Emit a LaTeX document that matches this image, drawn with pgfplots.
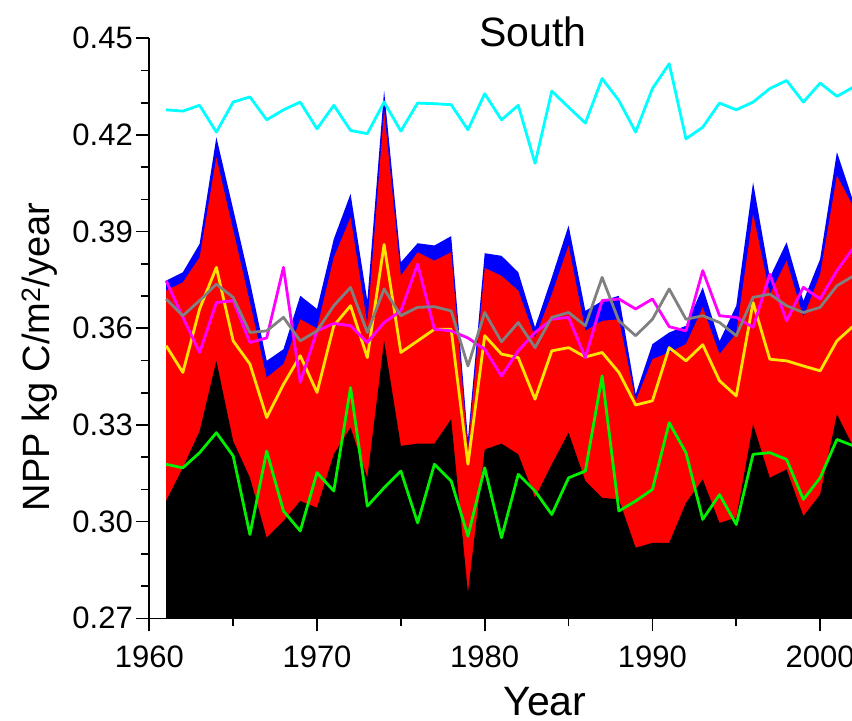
\documentclass[border=0pt]{standalone}
\usepackage{fontspec}
\setmainfont{Liberation Sans}
\usepackage{pgfplots}
\usepackage{pgfplotstable}
\pgfplotsset{compat=1.18}
\definecolor{ncyan}{RGB}{0,255,255}
\definecolor{nyellow}{RGB}{255,228,0}
\definecolor{nmagenta}{RGB}{255,0,255}
\definecolor{ngray}{RGB}{128,128,128}
\definecolor{ngreen}{RGB}{0,240,0}
\definecolor{nblue}{RGB}{0,0,255}
\definecolor{nred}{RGB}{255,0,0}
\pgfplotstableread{
year blue red black cyan yellow magenta gray green
1961 0.3748 0.3717 0.3064 0.4278 0.3546 0.3748 0.3691 0.3178
1962 0.3774 0.3743 0.3167 0.4274 0.3463 0.3634 0.3639 0.3167
1963 0.3862 0.3820 0.3281 0.4292 0.3660 0.3525 0.3686 0.3214
1964 0.4193 0.4131 0.3499 0.4209 0.3789 0.3680 0.3737 0.3276
1965 0.3970 0.3905 0.3250 0.4302 0.3561 0.3686 0.3696 0.3204
1966 0.3745 0.3680 0.3136 0.4318 0.3489 0.3556 0.3587 0.2960
1967 0.3499 0.3447 0.2950 0.4247 0.3323 0.3570 0.3592 0.3219
1968 0.3535 0.3489 0.3002 0.4278 0.3426 0.3789 0.3634 0.3033
1969 0.3701 0.3628 0.3064 0.4302 0.3515 0.3432 0.3561 0.2971
1970 0.3660 0.3600 0.3043 0.4219 0.3401 0.3592 0.3592 0.3152
1971 0.3877 0.3820 0.3209 0.4292 0.3608 0.3615 0.3670 0.3095
1972 0.4017 0.3944 0.3292 0.4214 0.3670 0.3608 0.3727 0.3416
1973 0.3685 0.3613 0.3136 0.4204 0.3509 0.3556 0.3587 0.3048
1974 0.4338 0.4276 0.3561 0.4302 0.3860 0.3618 0.3722 0.3105
1975 0.3805 0.3763 0.3235 0.4212 0.3525 0.3654 0.3639 0.3157
1976 0.3864 0.3836 0.3242 0.4299 0.3561 0.3799 0.3665 0.2996
1977 0.3857 0.3810 0.3242 0.4297 0.3597 0.3597 0.3667 0.3178
1978 0.3886 0.3836 0.3318 0.4294 0.3597 0.3592 0.3654 0.3126
1979 0.3255 0.3225 0.2779 0.4216 0.3178 0.3570 0.3483 0.2955
1980 0.3833 0.3787 0.3224 0.4328 0.3577 0.3535 0.3649 0.3167
1981 0.3825 0.3763 0.3242 0.4247 0.3520 0.3452 0.3558 0.2950
1982 0.3774 0.3717 0.3209 0.4292 0.3509 0.3530 0.3618 0.3147
1983 0.3603 0.3571 0.3074 0.4112 0.3380 0.3587 0.3540 0.3095
1984 0.3758 0.3706 0.3178 0.4336 0.3530 0.3628 0.3634 0.3022
1985 0.3919 0.3857 0.3276 0.4286 0.3540 0.3634 0.3649 0.3136
1986 0.3654 0.3592 0.3126 0.4237 0.3511 0.3509 0.3608 0.3157
1987 0.3685 0.3623 0.3074 0.4375 0.3525 0.3686 0.3758 0.3452
1988 0.3701 0.3628 0.3069 0.4307 0.3463 0.3691 0.3623 0.3033
1989 0.3395 0.3375 0.2919 0.4209 0.3362 0.3660 0.3577 0.3064
1990 0.3551 0.3504 0.2934 0.4344 0.3375 0.3691 0.3628 0.3100
1991 0.3587 0.3525 0.2934 0.4421 0.3540 0.3605 0.3722 0.3307
1992 0.3608 0.3551 0.3058 0.4188 0.3499 0.3592 0.3628 0.3214
1993 0.3727 0.3665 0.3131 0.4224 0.3549 0.3779 0.3639 0.3007
1994 0.3560 0.3520 0.2996 0.4299 0.3437 0.3639 0.3618 0.3084
1995 0.3670 0.3585 0.3012 0.4278 0.3390 0.3634 0.3577 0.2991
1996 0.4053 0.3955 0.3302 0.4302 0.3680 0.3603 0.3696 0.3209
1997 0.3758 0.3706 0.3136 0.4344 0.3504 0.3768 0.3706 0.3214
1998 0.3867 0.3810 0.3162 0.4369 0.3499 0.3623 0.3670 0.3193
1999 0.3685 0.3634 0.3017 0.4302 0.3483 0.3727 0.3649 0.3069
2000 0.3815 0.3768 0.3084 0.4361 0.3468 0.3691 0.3665 0.3136
2001 0.4147 0.4074 0.3333 0.4320 0.3561 0.3779 0.3732 0.3255
2002 0.3990 0.3975 0.3230 0.4349 0.3608 0.3851 0.3763 0.3235
}\data
\begin{document}
\begin{tikzpicture}
\useasboundingbox (-149.3bp,-102.7bp) rectangle (702.7bp,618.3bp);
\begin{axis}[
  at={(0,0)}, anchor=south west,
  scale only axis, width=702.7bp, height=580bp,
  xmin=1960, xmax=2001.9, ymin=0.27, ymax=0.45,
  axis x line*=bottom, axis y line*=left,
  axis line style={line width=1.6bp, black},
  tick align=outside,
  major tick length=13bp, minor tick length=8bp,
  every tick/.style={black, line width=1.6bp},
  xtick={1960,1970,1980,1990,2000},
  minor xtick={1965,1975,1985,1995},
  ytick={0.27,0.30,0.33,0.36,0.39,0.42,0.45},
  minor ytick={0.28,0.29,0.31,0.32,0.34,0.35,0.37,0.38,0.40,0.41,0.43,0.44},
  tick label style={font=\fontsize{31bp}{36bp}\selectfont},
  /pgf/number format/assume math mode=true,
  y tick label style={/pgf/number format/.cd, fixed, fixed zerofill, precision=2},
  x tick label style={yshift=-11bp, /pgf/number format/.cd, 1000 sep={}},
  axis on top,
]
\addplot[draw=none, fill=nblue] table[x=year,y=blue]{\data} \closedcycle;
\addplot[draw=none, fill=nred] table[x=year,y=red]{\data} \closedcycle;
\addplot[draw=none, fill=black] table[x=year,y=black]{\data} \closedcycle;
\addplot[ngreen, line width=2.8bp, line join=round] table[x=year,y=green]{\data};
\addplot[nyellow, line width=2.8bp, line join=round] table[x=year,y=yellow]{\data};
\addplot[nmagenta, line width=2.8bp, line join=round] table[x=year,y=magenta]{\data};
\addplot[ngray, line width=2.8bp, line join=round] table[x=year,y=gray]{\data};
\addplot[ncyan, line width=2.8bp, line join=round] table[x=year,y=cyan]{\data};
\end{axis}
\node[anchor=base, font=\fontsize{41bp}{48bp}\selectfont] at (383.7bp,571.6bp) {South};
\node[anchor=base, font=\fontsize{41bp}{48bp}\selectfont] at (395.7bp,-96.8bp) {Year};
\node[anchor=base, rotate=90, font=\fontsize{38bp}{45bp}\selectfont] at (-100bp,261.3bp) {NPP kg C/m\textsuperscript{2}/year};
\end{tikzpicture}
\end{document}
